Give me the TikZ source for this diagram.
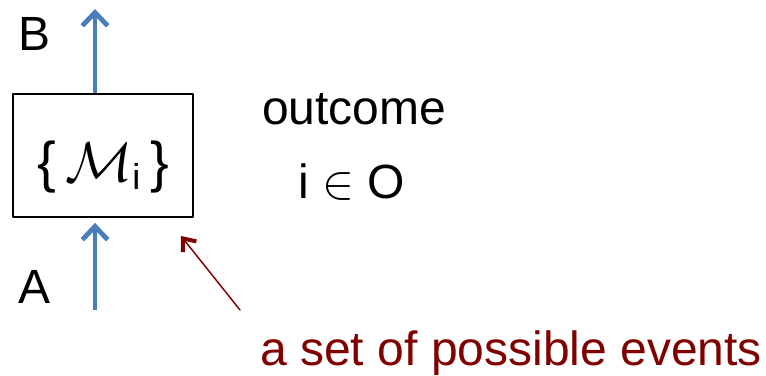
\documentclass[tikz,border=0pt]{standalone}
\usepackage{fix-cm}
\usepackage{fontspec}
\setmainfont{Liberation Sans}
\usetikzlibrary{positioning, arrows.meta}
\definecolor{figblue}{HTML}{4A7EBB}
\definecolor{figred}{HTML}{800000}

\begin{document}
\begin{tikzpicture}[
  x=0.75pt, y=-0.75pt,
  line cap=round, line join=round,
  box/.style = {draw=black, line width=1.1pt, minimum width=135pt, minimum height=92pt,
                inner sep=0pt, anchor=center},
  flow/.style = {draw=figblue, line width=3.6pt, line cap=butt,
                 -{Straight Barb[length=10pt, width=19pt, line width=3.6pt]}},
  hint/.style = {draw=figred, line width=1.1pt,
                 -{Straight Barb[length=8pt, width=13pt, line width=3pt]}},
  big/.style = {font=\fontsize{36}{40}\selectfont, inner sep=0pt, anchor=base west},
  redtxt/.style = {big, text=figred}
]
\useasboundingbox (0,0) rectangle (766,375);

\node[box] (mbox) at (103,155.5) {};
\node[font=\fontsize{42}{46}\selectfont, inner sep=0pt, anchor=base] (sym) at (103,181)
  {\{\,$\mathcal{M}_{\mbox{\fontsize{27}{27}\selectfont i}}$\,\}};

\coordinate (ain) at (95,310);
\coordinate (bout) at (95,9);
\node[big] (la) at (18,303) {A};
\node[big] (lb) at (18,50) {B};

% signal through the box
\draw[flow] (ain) -- ([yshift=-4pt]ain |- mbox.south);
\draw[flow] (bout |- mbox.north) -- (bout);

\node[big] (outc) at (262,124) {outcome};
\node[big] (iino) at (298,198) {i $\in$ O};

% pointer to the box
\node[redtxt] (events) at (260,365) {a set of possible events};
\coordinate (tail) at (240,310);
\coordinate (tip) at (181,236);
\draw[hint] (tail) -- (tip);

\end{tikzpicture}
\end{document}
